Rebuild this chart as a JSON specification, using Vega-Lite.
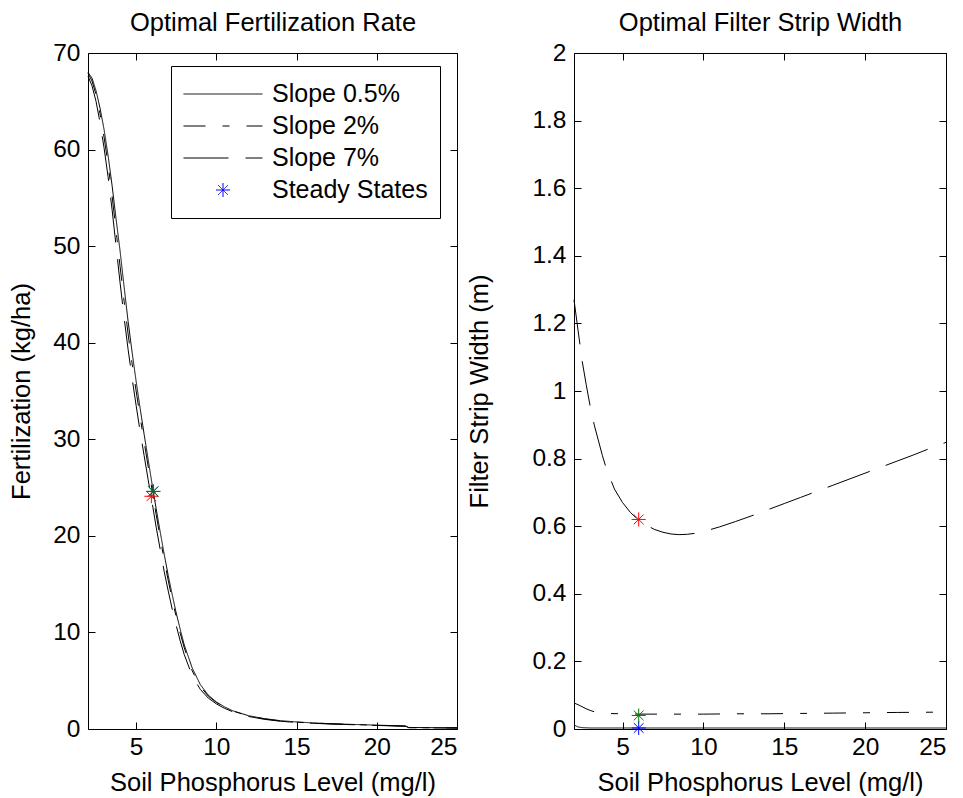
{
  "$schema": "https://vega.github.io/schema/vega-lite/v6.json",
  "background": "white",
  "padding": {"left": 9, "top": 9, "right": 5, "bottom": 5},
  "config": {
    "font": "Liberation Sans",
    "view": {"stroke": "black", "strokeWidth": 1},
    "axis": {
      "domain": false, "grid": false,
      "tickColor": "black", "tickSize": -7, "tickWidth": 1,
      "labelColor": "black", "labelFontSize": 24.5, "labelFont": "Liberation Sans",
      "titleFont": "Liberation Sans", "titleFontSize": 25.5, "titleFontWeight": "normal", "titleColor": "black"
    },
    "axisX": {"labelPadding": 13},
    "axisY": {"labelPadding": 15}
  },
  "datasets": {
    "fert": [
      {"p": 2, "f": 68.0, "series": "Slope 0.5%"}, {"p": 2.25, "f": 67.4, "series": "Slope 0.5%"}, {"p": 2.5, "f": 66.1, "series": "Slope 0.5%"}, {"p": 2.75, "f": 64.3, "series": "Slope 0.5%"},
      {"p": 3, "f": 62.1, "series": "Slope 0.5%"}, {"p": 3.25, "f": 59.4, "series": "Slope 0.5%"}, {"p": 3.5, "f": 56.3, "series": "Slope 0.5%"}, {"p": 3.75, "f": 52.8, "series": "Slope 0.5%"},
      {"p": 4, "f": 49.5, "series": "Slope 0.5%"}, {"p": 4.25, "f": 45.8, "series": "Slope 0.5%"}, {"p": 4.5, "f": 42.2, "series": "Slope 0.5%"}, {"p": 4.75, "f": 39.0, "series": "Slope 0.5%"},
      {"p": 5, "f": 36.0, "series": "Slope 0.5%"}, {"p": 5.25, "f": 33.2, "series": "Slope 0.5%"}, {"p": 5.5, "f": 30.5, "series": "Slope 0.5%"}, {"p": 5.75, "f": 27.9, "series": "Slope 0.5%"},
      {"p": 6, "f": 25.3, "series": "Slope 0.5%"}, {"p": 6.25, "f": 22.8, "series": "Slope 0.5%"}, {"p": 6.5, "f": 20.4, "series": "Slope 0.5%"}, {"p": 6.75, "f": 18.1, "series": "Slope 0.5%"},
      {"p": 7, "f": 15.9, "series": "Slope 0.5%"}, {"p": 7.25, "f": 13.9, "series": "Slope 0.5%"}, {"p": 7.5, "f": 12.0, "series": "Slope 0.5%"}, {"p": 7.75, "f": 10.3, "series": "Slope 0.5%"},
      {"p": 8, "f": 8.7, "series": "Slope 0.5%"}, {"p": 8.5, "f": 6.3, "series": "Slope 0.5%"}, {"p": 9, "f": 4.6, "series": "Slope 0.5%"}, {"p": 9.5, "f": 3.5, "series": "Slope 0.5%"},
      {"p": 10, "f": 2.8, "series": "Slope 0.5%"}, {"p": 10.5, "f": 2.3, "series": "Slope 0.5%"}, {"p": 11, "f": 1.9, "series": "Slope 0.5%"}, {"p": 12, "f": 1.38, "series": "Slope 0.5%"},
      {"p": 13, "f": 1.07, "series": "Slope 0.5%"}, {"p": 14, "f": 0.86, "series": "Slope 0.5%"}, {"p": 15, "f": 0.73, "series": "Slope 0.5%"}, {"p": 16, "f": 0.63, "series": "Slope 0.5%"},
      {"p": 17, "f": 0.56, "series": "Slope 0.5%"}, {"p": 18, "f": 0.5, "series": "Slope 0.5%"}, {"p": 19, "f": 0.45, "series": "Slope 0.5%"}, {"p": 20, "f": 0.4, "series": "Slope 0.5%"},
      {"p": 21, "f": 0.35, "series": "Slope 0.5%"}, {"p": 21.8, "f": 0.3, "series": "Slope 0.5%"}, {"p": 22, "f": 0.16, "series": "Slope 0.5%"}, {"p": 23, "f": 0.14, "series": "Slope 0.5%"},
      {"p": 24, "f": 0.13, "series": "Slope 0.5%"}, {"p": 25, "f": 0.12, "series": "Slope 0.5%"},

      {"p": 2, "f": 67.9, "series": "Slope 2%"}, {"p": 2.25, "f": 67.1, "series": "Slope 2%"}, {"p": 2.5, "f": 65.7, "series": "Slope 2%"}, {"p": 2.75, "f": 63.7, "series": "Slope 2%"},
      {"p": 3, "f": 61.3, "series": "Slope 2%"}, {"p": 3.25, "f": 58.5, "series": "Slope 2%"}, {"p": 3.5, "f": 55.2, "series": "Slope 2%"}, {"p": 3.75, "f": 51.6, "series": "Slope 2%"},
      {"p": 4, "f": 47.9, "series": "Slope 2%"}, {"p": 4.25, "f": 44.3, "series": "Slope 2%"}, {"p": 4.5, "f": 40.9, "series": "Slope 2%"}, {"p": 4.75, "f": 37.8, "series": "Slope 2%"},
      {"p": 5, "f": 35.0, "series": "Slope 2%"}, {"p": 5.25, "f": 32.3, "series": "Slope 2%"}, {"p": 5.5, "f": 29.7, "series": "Slope 2%"}, {"p": 5.75, "f": 27.2, "series": "Slope 2%"},
      {"p": 6, "f": 24.7, "series": "Slope 2%"}, {"p": 6.25, "f": 22.2, "series": "Slope 2%"}, {"p": 6.5, "f": 19.8, "series": "Slope 2%"}, {"p": 6.75, "f": 17.5, "series": "Slope 2%"},
      {"p": 7, "f": 15.4, "series": "Slope 2%"}, {"p": 7.25, "f": 13.4, "series": "Slope 2%"}, {"p": 7.5, "f": 11.6, "series": "Slope 2%"}, {"p": 7.75, "f": 9.9, "series": "Slope 2%"},
      {"p": 8, "f": 8.4, "series": "Slope 2%"}, {"p": 8.5, "f": 6.0, "series": "Slope 2%"}, {"p": 9, "f": 4.4, "series": "Slope 2%"}, {"p": 9.5, "f": 3.4, "series": "Slope 2%"},
      {"p": 10, "f": 2.75, "series": "Slope 2%"}, {"p": 10.5, "f": 2.25, "series": "Slope 2%"}, {"p": 11, "f": 1.88, "series": "Slope 2%"}, {"p": 12, "f": 1.35, "series": "Slope 2%"},
      {"p": 13, "f": 1.05, "series": "Slope 2%"}, {"p": 14, "f": 0.84, "series": "Slope 2%"}, {"p": 15, "f": 0.71, "series": "Slope 2%"}, {"p": 16, "f": 0.62, "series": "Slope 2%"},
      {"p": 17, "f": 0.55, "series": "Slope 2%"}, {"p": 18, "f": 0.49, "series": "Slope 2%"}, {"p": 19, "f": 0.44, "series": "Slope 2%"}, {"p": 20, "f": 0.39, "series": "Slope 2%"},
      {"p": 21, "f": 0.34, "series": "Slope 2%"}, {"p": 21.8, "f": 0.3, "series": "Slope 2%"}, {"p": 22, "f": 0.15, "series": "Slope 2%"}, {"p": 23, "f": 0.13, "series": "Slope 2%"},
      {"p": 24, "f": 0.12, "series": "Slope 2%"}, {"p": 25, "f": 0.11, "series": "Slope 2%"},

      {"p": 2, "f": 67.6, "series": "Slope 7%"}, {"p": 2.25, "f": 66.6, "series": "Slope 7%"}, {"p": 2.5, "f": 65.0, "series": "Slope 7%"}, {"p": 2.75, "f": 62.8, "series": "Slope 7%"},
      {"p": 3, "f": 60.2, "series": "Slope 7%"}, {"p": 3.25, "f": 57.2, "series": "Slope 7%"}, {"p": 3.5, "f": 53.8, "series": "Slope 7%"}, {"p": 3.75, "f": 50.0, "series": "Slope 7%"},
      {"p": 4, "f": 46.2, "series": "Slope 7%"}, {"p": 4.25, "f": 42.6, "series": "Slope 7%"}, {"p": 4.5, "f": 39.3, "series": "Slope 7%"}, {"p": 4.75, "f": 36.3, "series": "Slope 7%"},
      {"p": 5, "f": 33.5, "series": "Slope 7%"}, {"p": 5.25, "f": 30.8, "series": "Slope 7%"}, {"p": 5.5, "f": 28.3, "series": "Slope 7%"}, {"p": 5.75, "f": 25.8, "series": "Slope 7%"},
      {"p": 6, "f": 23.4, "series": "Slope 7%"}, {"p": 6.25, "f": 20.9, "series": "Slope 7%"}, {"p": 6.5, "f": 18.6, "series": "Slope 7%"}, {"p": 6.75, "f": 16.3, "series": "Slope 7%"},
      {"p": 7, "f": 14.3, "series": "Slope 7%"}, {"p": 7.25, "f": 12.4, "series": "Slope 7%"}, {"p": 7.5, "f": 10.7, "series": "Slope 7%"}, {"p": 7.75, "f": 9.1, "series": "Slope 7%"},
      {"p": 8, "f": 7.7, "series": "Slope 7%"}, {"p": 8.5, "f": 5.5, "series": "Slope 7%"}, {"p": 9, "f": 4.1, "series": "Slope 7%"}, {"p": 9.5, "f": 3.2, "series": "Slope 7%"},
      {"p": 10, "f": 2.6, "series": "Slope 7%"}, {"p": 10.5, "f": 2.15, "series": "Slope 7%"}, {"p": 11, "f": 1.8, "series": "Slope 7%"}, {"p": 12, "f": 1.3, "series": "Slope 7%"},
      {"p": 13, "f": 1.0, "series": "Slope 7%"}, {"p": 14, "f": 0.8, "series": "Slope 7%"}, {"p": 15, "f": 0.68, "series": "Slope 7%"}, {"p": 16, "f": 0.6, "series": "Slope 7%"},
      {"p": 17, "f": 0.52, "series": "Slope 7%"}, {"p": 18, "f": 0.47, "series": "Slope 7%"}, {"p": 19, "f": 0.42, "series": "Slope 7%"}, {"p": 20, "f": 0.37, "series": "Slope 7%"},
      {"p": 21, "f": 0.32, "series": "Slope 7%"}, {"p": 21.8, "f": 0.28, "series": "Slope 7%"}, {"p": 22, "f": 0.13, "series": "Slope 7%"}, {"p": 23, "f": 0.12, "series": "Slope 7%"},
      {"p": 24, "f": 0.11, "series": "Slope 7%"}, {"p": 25, "f": 0.1, "series": "Slope 7%"}
    ],
    "ssf": [
      {"p": 6.07, "f": 24.6, "series": "Slope 0.5%"},
      {"p": 6.07, "f": 24.6, "series": "Slope 2%"},
      {"p": 5.95, "f": 24.1, "series": "Slope 7%"}
    ],
    "strip": [
      {"p": 2, "w": 0.012, "series": "Slope 0.5%"}, {"p": 2.25, "w": 0.006, "series": "Slope 0.5%"}, {"p": 2.5, "w": 0.004, "series": "Slope 0.5%"}, {"p": 3, "w": 0.003, "series": "Slope 0.5%"},
      {"p": 5, "w": 0.003, "series": "Slope 0.5%"}, {"p": 10, "w": 0.003, "series": "Slope 0.5%"}, {"p": 15, "w": 0.003, "series": "Slope 0.5%"}, {"p": 20, "w": 0.003, "series": "Slope 0.5%"}, {"p": 25, "w": 0.003, "series": "Slope 0.5%"},

      {"p": 2, "w": 0.077, "series": "Slope 2%"}, {"p": 2.25, "w": 0.072, "series": "Slope 2%"}, {"p": 2.5, "w": 0.066, "series": "Slope 2%"}, {"p": 2.75, "w": 0.06, "series": "Slope 2%"},
      {"p": 3, "w": 0.055, "series": "Slope 2%"}, {"p": 3.25, "w": 0.051, "series": "Slope 2%"}, {"p": 3.5, "w": 0.048, "series": "Slope 2%"}, {"p": 4, "w": 0.046, "series": "Slope 2%"},
      {"p": 5, "w": 0.045, "series": "Slope 2%"}, {"p": 6, "w": 0.044, "series": "Slope 2%"}, {"p": 8, "w": 0.044, "series": "Slope 2%"}, {"p": 10, "w": 0.044, "series": "Slope 2%"},
      {"p": 12, "w": 0.045, "series": "Slope 2%"}, {"p": 14, "w": 0.045, "series": "Slope 2%"}, {"p": 16, "w": 0.046, "series": "Slope 2%"}, {"p": 18, "w": 0.047, "series": "Slope 2%"},
      {"p": 20, "w": 0.048, "series": "Slope 2%"}, {"p": 22, "w": 0.049, "series": "Slope 2%"}, {"p": 25, "w": 0.05, "series": "Slope 2%"},

      {"p": 2, "w": 1.27, "series": "Slope 7%"}, {"p": 2.25, "w": 1.18, "series": "Slope 7%"}, {"p": 2.5, "w": 1.09, "series": "Slope 7%"}, {"p": 2.75, "w": 1.02, "series": "Slope 7%"},
      {"p": 3, "w": 0.955, "series": "Slope 7%"}, {"p": 3.25, "w": 0.9, "series": "Slope 7%"}, {"p": 3.5, "w": 0.855, "series": "Slope 7%"}, {"p": 3.75, "w": 0.81, "series": "Slope 7%"},
      {"p": 4, "w": 0.77, "series": "Slope 7%"}, {"p": 4.5, "w": 0.71, "series": "Slope 7%"}, {"p": 5, "w": 0.67, "series": "Slope 7%"}, {"p": 5.5, "w": 0.64, "series": "Slope 7%"},
      {"p": 6, "w": 0.618, "series": "Slope 7%"}, {"p": 6.5, "w": 0.602, "series": "Slope 7%"}, {"p": 7, "w": 0.59, "series": "Slope 7%"}, {"p": 7.5, "w": 0.582, "series": "Slope 7%"},
      {"p": 8, "w": 0.577, "series": "Slope 7%"}, {"p": 8.5, "w": 0.575, "series": "Slope 7%"}, {"p": 9, "w": 0.576, "series": "Slope 7%"}, {"p": 9.5, "w": 0.579, "series": "Slope 7%"},
      {"p": 10, "w": 0.584, "series": "Slope 7%"}, {"p": 11, "w": 0.598, "series": "Slope 7%"}, {"p": 12, "w": 0.614, "series": "Slope 7%"}, {"p": 13, "w": 0.631, "series": "Slope 7%"},
      {"p": 14, "w": 0.649, "series": "Slope 7%"}, {"p": 15, "w": 0.667, "series": "Slope 7%"}, {"p": 16, "w": 0.685, "series": "Slope 7%"}, {"p": 17, "w": 0.703, "series": "Slope 7%"},
      {"p": 18, "w": 0.721, "series": "Slope 7%"}, {"p": 19, "w": 0.739, "series": "Slope 7%"}, {"p": 20, "w": 0.757, "series": "Slope 7%"}, {"p": 21, "w": 0.775, "series": "Slope 7%"},
      {"p": 22, "w": 0.793, "series": "Slope 7%"}, {"p": 23, "w": 0.811, "series": "Slope 7%"}, {"p": 24, "w": 0.83, "series": "Slope 7%"}, {"p": 25, "w": 0.848, "series": "Slope 7%"}
    ],
    "sss": [
      {"p": 6, "w": 0.003, "series": "Slope 0.5%"},
      {"p": 6, "w": 0.04, "series": "Slope 2%"},
      {"p": 6, "w": 0.62, "series": "Slope 7%"}
    ]
  },
  "hconcat": [
    {
      "width": 369,
      "height": 676,
      "layer": [
        {
          "data": {"name": "fert"},
          "mark": {"type": "line", "color": "black", "strokeWidth": 1},
          "encoding": {
            "x": {"field": "p", "type": "quantitative", "scale": {"domain": [2, 25], "nice": false, "zero": false},
                  "axis": {"values": [5, 10, 15, 20, 25], "title": "Soil Phosphorus Level (mg/l)", "titlePadding": 12}},
            "y": {"field": "f", "type": "quantitative", "scale": {"domain": [0, 70], "nice": false},
                  "axis": {"values": [0, 10, 20, 30, 40, 50, 60, 70], "title": "Fertilization (kg/ha)", "titlePadding": 18}},
            "strokeDash": {
              "field": "series", "type": "nominal",
              "scale": {"domain": ["Slope 0.5%", "Slope 2%", "Slope 7%", "Steady States"], "range": [[1, 0], [22, 17, 7, 17], [45, 17], [1, 0]]},
              "legend": {
                "orient": "none", "legendX": 83, "legendY": 13, "title": null,
                "symbolType": "stroke", "symbolSize": 6241, "symbolStrokeWidth": 1, "symbolStrokeColor": "black",
                "labelFontSize": 25, "labelColor": "black", "labelFont": "Liberation Sans", "labelOffset": 9, "labelLimit": 400,
                "clipHeight": 32, "rowPadding": 0, "padding": 12,
                "strokeColor": "black", "fillColor": "white",
                "encode": {
                  "symbols": {
                    "update": {
                      "shape": {"signal": "datum.value === 'Steady States' ? 'M-1,0L1,0M0,-1L0,1M-0.7,-0.7L0.7,0.7M-0.7,0.7L0.7,-0.7' : 'stroke'"},
                      "size": {"signal": "datum.value === 'Steady States' ? 196 : 6241"},
                      "stroke": {"signal": "datum.value === 'Steady States' ? '#0000ff' : 'black'"}
                    }
                  }
                }
              }
            }
          }
        },
        {
          "data": {"name": "ssf"},
          "mark": {"type": "point", "shape": "M-1,0L1,0M0,-1L0,1M-0.7,-0.7L0.7,0.7M-0.7,0.7L0.7,-0.7", "size": 196, "filled": false, "strokeWidth": 1, "opacity": 1},
          "encoding": {
            "x": {"field": "p", "type": "quantitative", "axis": {"orient": "top", "values": [5, 10, 15, 20, 25], "labels": false, "title": "Optimal Fertilization Rate", "titlePadding": 22.5, "titleBaseline": "alphabetic", "minExtent": 0, "labelPadding": 0}},
            "y": {"field": "f", "type": "quantitative", "axis": {"orient": "right", "values": [0, 10, 20, 30, 40, 50, 60, 70], "labels": false, "title": null, "minExtent": 0, "maxExtent": 0, "labelPadding": 0}},
            "color": {"field": "series", "type": "nominal", "scale": {"domain": ["Slope 0.5%", "Slope 2%", "Slope 7%"], "range": ["#0000ff", "#008000", "#ff0000"]}, "legend": null}
          }
        }
      ],
      "resolve": {"axis": {"x": "independent", "y": "independent"}}
    },
    {
      "width": 372,
      "height": 676,
      "layer": [
        {
          "data": {"name": "strip"},
          "mark": {"type": "line", "color": "black", "strokeWidth": 1},
          "encoding": {
            "x": {"field": "p", "type": "quantitative", "scale": {"domain": [2, 25], "nice": false, "zero": false},
                  "axis": {"values": [5, 10, 15, 20, 25], "title": "Soil Phosphorus Level (mg/l)", "titlePadding": 12}},
            "y": {"field": "w", "type": "quantitative", "scale": {"domain": [0, 2], "nice": false},
                  "axis": {"values": [0, 0.2, 0.4, 0.6, 0.8, 1, 1.2, 1.4, 1.6, 1.8, 2], "format": "~g", "title": "Filter Strip Width (m)", "titlePadding": 39}},
            "strokeDash": {
              "field": "series", "type": "nominal",
              "scale": {"domain": ["Slope 0.5%", "Slope 2%", "Slope 7%"], "range": [[1, 0], [22, 17, 7, 17], [45, 17]]},
              "legend": null
            }
          }
        },
        {
          "data": {"name": "sss"},
          "mark": {"type": "point", "shape": "M-1,0L1,0M0,-1L0,1M-0.7,-0.7L0.7,0.7M-0.7,0.7L0.7,-0.7", "size": 196, "filled": false, "strokeWidth": 1, "opacity": 1},
          "encoding": {
            "x": {"field": "p", "type": "quantitative", "axis": {"orient": "top", "values": [5, 10, 15, 20, 25], "labels": false, "title": "Optimal Filter Strip Width", "titlePadding": 22.5, "titleBaseline": "alphabetic", "minExtent": 0, "labelPadding": 0}},
            "y": {"field": "w", "type": "quantitative", "axis": {"orient": "right", "values": [0, 0.2, 0.4, 0.6, 0.8, 1, 1.2, 1.4, 1.6, 1.8, 2], "labels": false, "title": null, "minExtent": 0, "maxExtent": 0, "labelPadding": 0}},
            "color": {"field": "series", "type": "nominal", "scale": {"domain": ["Slope 0.5%", "Slope 2%", "Slope 7%"], "range": ["#0000ff", "#008000", "#ff0000"]}, "legend": null}
          }
        }
      ],
      "resolve": {"axis": {"x": "independent", "y": "independent"}}
    }
  ],
  "spacing": 117,
  "bounds": "flush",
  "resolve": {
    "scale": {"strokeDash": "independent", "color": "independent"},
    "legend": {"strokeDash": "independent", "color": "independent"}
  }
}
